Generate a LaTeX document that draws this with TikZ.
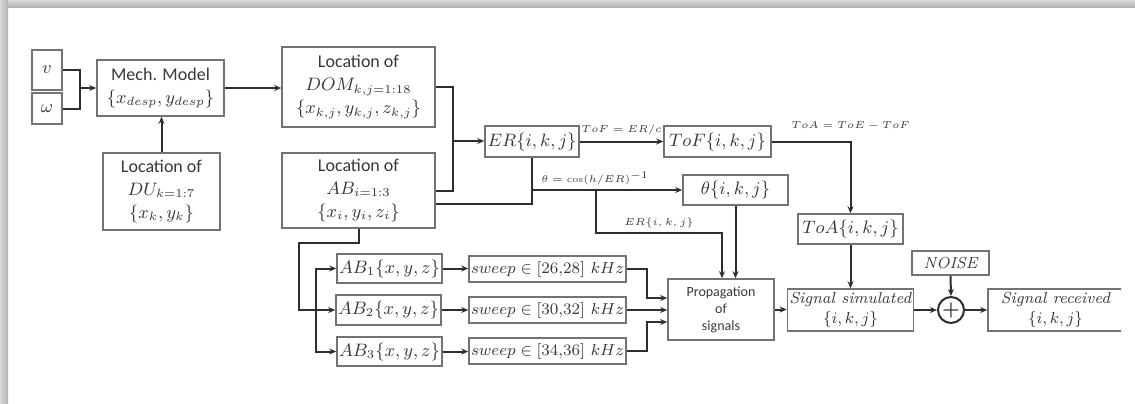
\documentclass[tikz,border=0pt]{standalone}
\usepackage{amsmath}
\usepackage{fontspec}
\newfontfamily\calibri{Carlito}
\usetikzlibrary{positioning, arrows.meta}

\definecolor{framegray}{gray}{0.45}
\definecolor{wiregray}{gray}{0.18}
\definecolor{inkgray}{gray}{0.22}

\tikzset{
  blk/.style={draw=framegray, line width=0.8pt, text=inkgray, align=center,
              inner sep=1pt, font=\calibri\fontsize{9}{11.5}\selectfont},
  itbox/.style={blk, font=\rmfamily\itshape\fontsize{8}{10}\selectfont},
  wire/.style={draw=wiregray, line width=1pt},
  lbl/.style={text=inkgray, inner sep=1pt, font=\fontsize{5}{6}\selectfont},
}

\begin{document}
\begin{tikzpicture}[x=0.5pt, y=-0.5pt, >={Stealth[length=3.5pt, width=3pt]}]
    \useasboundingbox (0,0) rectangle (1135,403);
    % shadow frame
    \shade[top color=gray!30, bottom color=gray!60] (0,0) rectangle (1135,7);
    \shade[left color=gray!30, right color=gray!60] (0,0) rectangle (8,403);

    \begin{scope}
    \clip (8,7) rectangle (1121,403);

    % inputs and mechanical model
    \node[blk, minimum width=15pt, minimum height=20pt] (v) at (47,70) {$v$};
    \node[blk, minimum width=15pt, minimum height=15.5pt] (w) at (47,108.5) {$\omega$};
    \node[blk, minimum width=63.5pt, minimum height=28pt] (mech) at (160.5,88)
        {Mech. Model\\$\{x_{desp}, y_{desp}\}$};
    \node[blk, minimum width=58.5pt, minimum height=38.5pt] (du) at (161.5,191.5)
        {Location of\\$DU_{k=1:7}$\\$\{x_k, y_k\}$};

    % locations
    \node[blk, minimum width=76.5pt, minimum height=40pt] (dom) at (358.5,87)
        {Location of\\$DOM_{k,j=1:18}$\\$\{x_{k,j}, y_{k,j}, z_{k,j}\}$};
    \node[blk, minimum width=76.5pt, minimum height=37.5pt] (abloc) at (358.5,190.5)
        {Location of\\$AB_{i=1:3}$\\$\{x_i, y_i, z_i\}$};

    % ranges and times
    \node[blk, minimum width=47pt, minimum height=15.5pt] (er) at (532,141.5) {$ER\{i,k,j\}$};
    \node[blk, minimum width=53.5pt, minimum height=15.5pt] (tof) at (717.5,141.5) {$ToF\{i,k,j\}$};
    \node[blk, minimum width=52.5pt, minimum height=15pt] (theta) at (735.5,190) {$\theta\{i,k,j\}$};
    \node[blk, minimum width=52.5pt, minimum height=15pt] (toa) at (850.5,229) {$ToA\{i,k,j\}$};

    % anchor boxes and sweeps
    \node[blk, minimum width=52.5pt, minimum height=14.5pt] (ab1) at (389.5,268.5) {$AB_1\{x,y,z\}$};
    \node[blk, minimum width=52.5pt, minimum height=15pt] (ab2) at (388.5,310) {$AB_2\{x,y,z\}$};
    \node[blk, minimum width=52.5pt, minimum height=14.5pt] (ab3) at (389.5,351.5) {$AB_3\{x,y,z\}$};
    \node[itbox, minimum width=77.5pt, minimum height=13pt] (sw1) at (547.5,269) {$sweep \in [26{,}28]\ kHz$};
    \node[itbox, minimum width=77.5pt, minimum height=13pt] (sw2) at (547.5,310) {$sweep \in [30{,}32]\ kHz$};
    \node[itbox, minimum width=77.5pt, minimum height=13pt] (sw3) at (547.5,351) {$sweep \in [34{,}36]\ kHz$};

    % propagation and output
    \node[blk, font=\calibri\fontsize{7}{8.5}\selectfont, minimum width=53pt, minimum height=30.5pt]
        (prop) at (721,309.5) {Propagation\\of\\signals};
    \node[itbox, minimum width=62.5pt, minimum height=21pt] (sim) at (850.5,310)
        {Signal simulated\\$\{i,k,j\}$};
    \node[circle, draw=wiregray, line width=1pt, text=wiregray, minimum size=13pt, inner sep=0pt]
        (sum) at (951,310) {$\boldsymbol{+}$};
    \node[itbox, minimum width=38.5pt, minimum height=12pt] (noise) at (950.5,263) {NOISE};
    \node[itbox, minimum width=67.5pt, minimum height=21pt] (rec) at (1055.5,310)
        {Signal received\\$\{i,k,j\}$};

    % connectors
    \coordinate (vw) at (80,88);
    \draw[wire] (v.east) -| (vw);
    \draw[wire] (w.east) -| (vw);
    \draw[wire,->] (vw) -- (vw -| mech.west);
    \draw[wire,->] (du.north) -- (du.north |- mech.south);
    \draw[wire,->] (mech.east) -- (mech.east -| dom.west);

    \coordinate (erin) at (453,141);
    \draw[wire] (dom.east) -| (erin);
    \draw[wire] (abloc.east) -| (erin);
    \draw[wire,->] (erin) -- (erin -| er.west);
    \coordinate (erbot) at (532,204);
    \draw[wire] (abloc.east |- erbot) -- (erbot) -- (er.south);
    \coordinate (thin) at (532,190);
    \draw[wire,->] (thin) -- (theta.west)
        node[lbl, font=\fontsize{4.5}{5.5}\selectfont, pos=0.42, above=1pt] {$\theta = \cos(h/ER)^{-1}$};
    \draw[wire,->] (er.east) -- (tof.west)
        node[lbl, midway, above=2pt] {$ToF = ER/c$};
    \draw[wire,->] (tof.east) -| (toa.north)
        node[lbl, pos=0.5, above=4pt] {$ToA = ToE - ToF$};

    \coordinate (ertap) at (596,190);
    \coordinate (erdrop) at (722,233);
    \draw[wire,->] (ertap) |- node[lbl, pos=0.75, above=1pt] {$ER\{i,k,j\}$} (erdrop)
        -- (erdrop |- prop.north);
    \draw[wire,->] (theta.south) -- (theta.south |- prop.north);

    \coordinate (abdrop) at (299,243);
    \coordinate (abfork) at (316,310);
    \draw[wire,->] (abloc.south) |- (abdrop) |- (ab2.west);
    \draw[wire,->] (abfork) |- (ab1.west);
    \draw[wire,->] (abfork) |- (ab3.west);
    \foreach \i in {1,2,3}
        \draw[wire,->] (ab\i.east) -- (ab\i.east -| sw\i.west);

    \coordinate (swa) at (647,298);
    \coordinate (swc) at (647,322);
    \draw[wire,->] (sw1.east) -| (swa) -- (swa -| prop.west);
    \draw[wire,->] (sw2.east) -- (sw2.east -| prop.west);
    \draw[wire,->] (sw3.east) -| (swc) -- (swc -| prop.west);

    \draw[wire,->] (prop.east) -- (prop.east -| sim.west);
    \draw[wire,->] (toa.south) -- (toa.south |- sim.north);
    \draw[wire,->] (sim.east) -- (sum.west);
    \draw[wire,->] (noise.south) -- (sum.north);
    \draw[wire,->] (sum.east) -- (rec.west);
    \end{scope}
\end{tikzpicture}
\end{document}
